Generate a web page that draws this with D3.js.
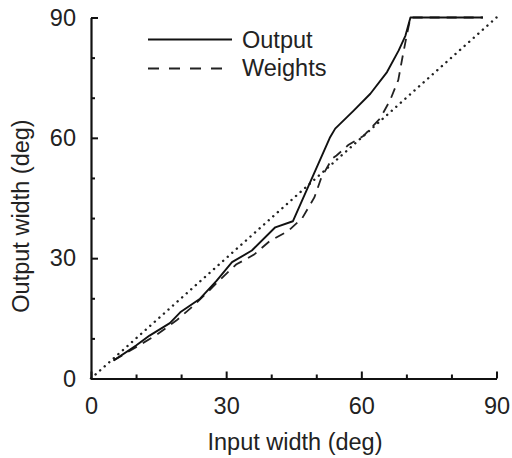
<!DOCTYPE html>
<html>
<head>
<meta charset="utf-8">
<script src="https://cdn.jsdelivr.net/npm/d3@7"></script>
<style>
  body { margin: 0; background: #fff; }
  text { font-family: "Liberation Sans", Arial, sans-serif; fill: #222; }
</style>
</head>
<body>
<div id="chart"></div>
<script>
// values (deg)
var outputX = [5, 10, 13, 17.5, 19.8, 24.2, 27.9, 31.3, 35.7, 40.9, 44.8, 53, 54.2, 58.3, 62, 65.7, 68.3, 69.8, 70.9, 87]
var outputY = [4.5, 8.2, 10.7, 13.8, 16.5, 19.9, 24.4, 29, 31.9, 37.7, 39.2, 60, 62.3, 66.8, 71, 76.4, 81.8, 85.5, 90, 90]
var weightsX = [5, 10, 14.7, 19, 22.4, 25.3, 28.7, 32.2, 36.2, 39.6, 43.8, 46.9, 49.6, 51.1, 53.5, 54.5, 57.1, 60.5, 64.2, 66.4, 68.2, 69.1, 70, 70.9, 87]
var weightsY = [4.5, 7.8, 11, 14.5, 17.8, 20.9, 24.7, 28.4, 30.9, 34.2, 36.8, 40, 45.2, 50, 54.8, 55.6, 58.2, 60.5, 64.9, 69.4, 74.4, 79.9, 85.1, 90, 90]
var identityX = [0, 90]
var majorTicks = [0, 30, 60, 90]
var minorTicks = [10, 20, 40, 50, 70, 80]
var legendLabels = ["Output", "Weights"]

var W = 512, H = 458
var FS = 23.5
var svg = d3.select("#chart").append("svg").attr("width", W).attr("height", H)

var x = d3.scaleLinear().domain([0, 90]).range([91, 496.5])
var y = d3.scaleLinear().domain([0, 90]).range([378.5, 17.5])

function zip(xs, ys) { return xs.map(function(d, i) { return [d, ys[i]] }) }
var line = d3.line().x(function(d) { return x(d[0]) }).y(function(d) { return y(d[1]) })

// identity line (dotted)
svg.append("path")
  .datum(zip(identityX, identityX))
  .attr("d", line)
  .attr("fill", "none").attr("stroke", "#222").attr("stroke-width", 2.4)
  .attr("stroke-linecap", "round").attr("stroke-dasharray", "0.1 6")

// weights (dashed)
svg.append("path")
  .datum(zip(weightsX, weightsY))
  .attr("d", line)
  .attr("fill", "none").attr("stroke", "#222").attr("stroke-width", 1.8)
  .attr("stroke-dasharray", "10 7")

// output (solid)
svg.append("path")
  .datum(zip(outputX, outputY))
  .attr("d", line)
  .attr("fill", "none").attr("stroke", "#111").attr("stroke-width", 1.9)
  .attr("stroke-linejoin", "round")

// axes
svg.append("g").attr("transform", "translate(0," + y(0) + ")")
  .call(d3.axisBottom(x).tickValues(majorTicks).tickSize(-7).tickSizeOuter(0).tickPadding(19))
svg.append("g").attr("transform", "translate(0," + y(0) + ")")
  .call(d3.axisBottom(x).tickValues(minorTicks).tickSize(-4).tickSizeOuter(0).tickFormat(""))
  .select(".domain").remove()

svg.append("g").attr("transform", "translate(" + x(0) + ",0)")
  .call(d3.axisLeft(y).tickValues(majorTicks).tickSize(-7).tickSizeOuter(0).tickPadding(15))
svg.append("g").attr("transform", "translate(" + x(0) + ",0)")
  .call(d3.axisLeft(y).tickValues(minorTicks).tickSize(-4).tickSizeOuter(0).tickFormat(""))
  .select(".domain").remove()

svg.selectAll(".domain").attr("stroke", "#111").attr("stroke-width", 2.2)
svg.selectAll(".tick line").attr("stroke", "#111").attr("stroke-width", 2)
svg.selectAll(".tick text").attr("font-size", FS).attr("font-family", "Liberation Sans, Arial, sans-serif").attr("fill", "#222")

// axis titles
svg.append("text").attr("x", 295).attr("y", 450).attr("text-anchor", "middle")
  .attr("font-size", FS).text("Input width (deg)")
svg.append("text").attr("transform", "translate(29,216) rotate(-90)").attr("text-anchor", "middle")
  .attr("font-size", FS).text("Output width (deg)")

// legend
var legend = svg.append("g")
legend.append("line").attr("x1", 148).attr("x2", 232).attr("y1", 39.5).attr("y2", 39.5)
  .attr("stroke", "#111").attr("stroke-width", 1.9)
legend.append("line").attr("x1", 148).attr("x2", 223).attr("y1", 68.5).attr("y2", 68.5)
  .attr("stroke", "#222").attr("stroke-width", 1.8).attr("stroke-dasharray", "11 10")
legend.selectAll("text.leg").data(legendLabels).enter().append("text")
  .attr("class", "leg")
  .attr("x", 242).attr("y", function(d, i) { return 47.5 + i * 28 })
  .attr("font-size", FS).text(function(d) { return d })
</script>
</body>
</html>
